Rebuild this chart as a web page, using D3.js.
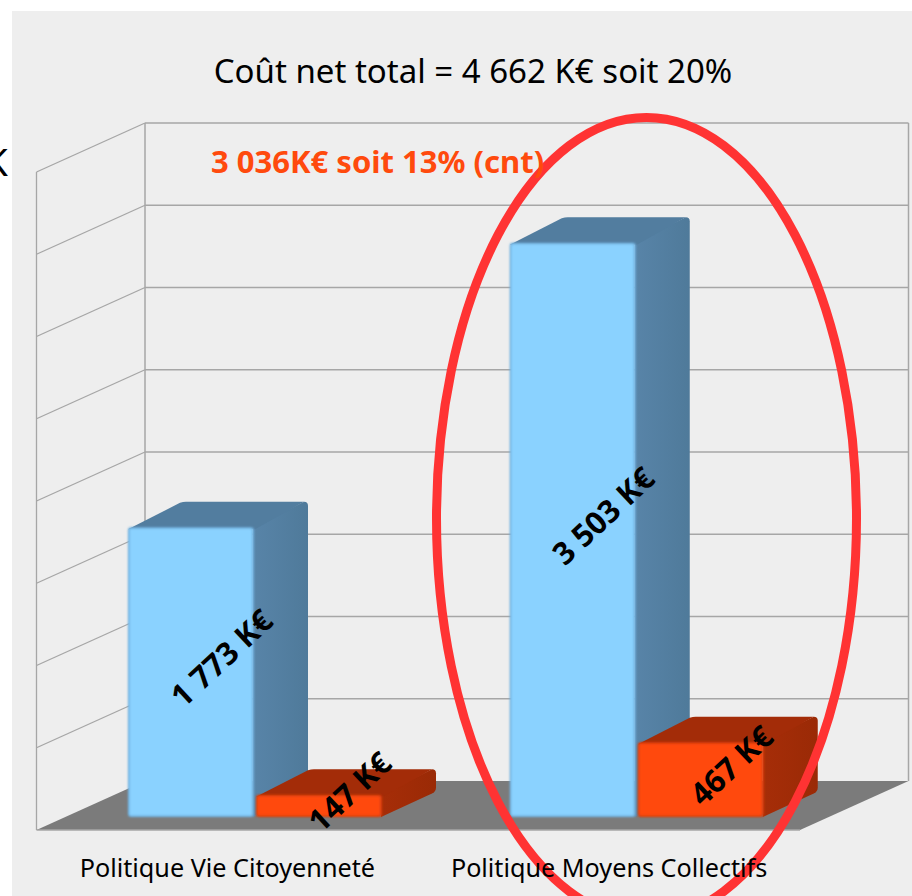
<!DOCTYPE html>
<html><head><meta charset="utf-8">
<style>html,body{margin:0;padding:0;background:#fff}svg{display:block}text{font-family:"Noto Sans",sans-serif}</style>
<script src="https://cdn.jsdelivr.net/npm/d3@7"></script></head>
<body><div id="c"></div>
<script>
const categories = ["Politique Vie Citoyenneté", "Politique Moyens Collectifs"];
const seriesNames = ["a", "b"];
const blueValues = [1773, 3503];
const orangeValues = [147, 467];
const valueLabels = {a: ["1 773 K€", "3 503 K€"], b: ["147 K€", "467 K€"]};
const titleText = "Coût net total = 4 662 K€ soit 20%";
const subtitleText = "3 036K€ soit 13% (cnt)";
const clippedText = "K";
const axisTicks = [0, 500, 1000, 1500, 2000, 2500, 3000, 3500, 4000];

const W = 912, H = 896;
const svg = d3.select("#c").append("svg").attr("width", W).attr("height", H);
const defs = svg.append("defs");
const grad = (id, a, b) => {
  const g = defs.append("linearGradient").attr("id", id).attr("x1", 0).attr("x2", 1).attr("y1", 0).attr("y2", 0);
  g.append("stop").attr("offset", 0).attr("stop-color", a);
  g.append("stop").attr("offset", 1).attr("stop-color", b);
};
grad("sideBlue", "#5884A8", "#4F7A9A");
grad("sideOrange", "#A62D08", "#9A2A06");
defs.append("filter").attr("id", "soft").attr("x", "-5%").attr("y", "-5%").attr("width", "110%").attr("height", "110%")
  .append("feGaussianBlur").attr("stdDeviation", 0.8);

svg.append("rect").attr("x", 12).attr("y", 11).attr("width", W - 12).attr("height", H - 11).attr("fill", "#EEEEEE");

// 3D frame
const depthX = 108.5, depthY = 49;
const frontLeft = 36.5, frontRight = 800, frontBase = 830, plotH = 658;
const y = d3.scaleLinear().domain([0, 4000]).range([frontBase, frontBase - plotH]);
const xCat = d3.scaleBand().domain(categories).range([frontLeft, frontRight]);
const xSer = d3.scaleBand().domain(seriesNames).range([91.5, 344.5]).paddingInner(3 / 128);

svg.append("polygon").attr("fill", "#7B7B7B").attr("points", [
  [frontLeft, frontBase], [frontLeft + depthX, frontBase - depthY], [frontRight + depthX, frontBase - depthY], [frontRight, frontBase]
].join(" "));

const gridColor = "#A6A6A6";
const gridG = svg.append("g").attr("fill", "none").attr("stroke", gridColor);
axisTicks.forEach(t => {
  const yf = y(t), yb = yf - depthY;
  if (t > 0) gridG.append("line").attr("x1", frontLeft + depthX).attr("x2", frontRight + depthX).attr("y1", yb).attr("y2", yb).attr("stroke-width", 1.5);
  if (t > 0) gridG.append("line").attr("x1", frontLeft).attr("x2", frontLeft + depthX).attr("y1", yf).attr("y2", yb).attr("stroke-width", 1.3);
});
gridG.append("line").attr("x1", frontLeft).attr("x2", frontLeft).attr("y1", y(4000)).attr("y2", y(0)).attr("stroke-width", 1.3);
gridG.append("line").attr("x1", frontLeft + depthX).attr("x2", frontLeft + depthX).attr("y1", y(4000) - depthY).attr("y2", y(0) - depthY).attr("stroke-width", 1.5);
gridG.append("line").attr("x1", frontRight + depthX).attr("x2", frontRight + depthX).attr("y1", y(4000) - depthY).attr("y2", y(0) - depthY).attr("stroke-width", 1.5);
gridG.append("line").attr("x1", frontLeft).attr("x2", frontRight).attr("y1", frontBase).attr("y2", frontBase).attr("stroke-width", 1.5);

// Bars
const barDX = 55, barDY = 25.5, barBase = 817, zeroY = y(0) - 11;
const yBar = v => zeroY - (y(0) - y(v));
const style = {
  a: {front: "#8AD2FF", edge: "#6FAEDB", side: "url(#sideBlue)", top: "#527D9F"},
  b: {front: "#FF4A0D", edge: "#D93E0A", side: "url(#sideOrange)", top: "#A32C08"}
};
const rows = [];
categories.forEach((c, i) => {
  rows.push({c, s: "a", v: blueValues[i], label: valueLabels.a[i]});
  rows.push({c, s: "b", v: orangeValues[i], label: valueLabels.b[i]});
});
const barG = svg.append("g");
const line = d3.line().curve(d3.curveLinearClosed);
rows.forEach(d => {
  const st = style[d.s];
  const x0 = xCat(d.c) + xSer(d.s), w = xSer.bandwidth(), x1 = x0 + w;
  const t = yBar(d.v);
  d.cx = (x0 + x1 + barDX) / 2 + 3;
  d.cy = (t - barDY + barBase) / 2 - 2;
  const g = barG.append("g");
  const r = 4;
  g.append("path").attr("fill", st.side).attr("d",
    `M${x1},${t}L${x1 + barDX - r},${t - barDY}Q${x1 + barDX},${t - barDY} ${x1 + barDX},${t - barDY + r}` +
    `L${x1 + barDX},${barBase - barDY - r}Q${x1 + barDX},${barBase - barDY} ${x1 + barDX - r},${barBase - barDY + 2}L${x1},${barBase}Z`);
  g.append("path").attr("fill", st.top).attr("d",
    `M${x0},${t + 2}L${x0 + barDX - 3},${t - barDY + 1}Q${x0 + barDX},${t - barDY} ${x0 + barDX + 3},${t - barDY}L${x1 + barDX - r},${t - barDY}L${x1 + 2},${t + 2}Z`);
  g.append("rect").attr("x", x0).attr("y", t).attr("width", w + 1).attr("height", barBase - t).attr("rx", 3)
    .attr("fill", st.edge).attr("filter", "url(#soft)");
  g.append("rect").attr("x", x0 + 1.5).attr("y", t + 1.5).attr("width", w - 2.5).attr("height", barBase - t - 3).attr("rx", 1.5)
    .attr("fill", st.front).attr("filter", "url(#soft)");
});

// Red ellipse
svg.append("ellipse").attr("cx", 646.5).attr("cy", 518.5).attr("rx", 210).attr("ry", 401)
  .attr("fill", "none").attr("stroke", "#FF3333").attr("stroke-width", 9);

// Text
svg.append("text").attr("x", 473).attr("y", 83).attr("text-anchor", "middle")
  .attr("font-size", 33).attr("fill", "#000").text(titleText);
svg.append("text").attr("x", 211).attr("y", 173).attr("font-size", 31).attr("font-weight", 700)
  .attr("fill", "#FF4A0D").text(subtitleText);
svg.append("text").attr("x", 8).attr("y", 176).attr("text-anchor", "end").attr("font-size", 39).attr("fill", "#000").text(clippedText);

const axis = d3.axisBottom(xCat).tickSize(0).tickPadding(0);
const axG = svg.append("g").attr("transform", "translate(0,855)").call(axis);
axG.select(".domain").remove();
axG.selectAll("text").attr("font-size", 25.2).attr("fill", "#000").attr("dy", 0).attr("y", 0).attr("dominant-baseline", "hanging")
  .style("font-family", '"Noto Sans",sans-serif');

svg.append("g").selectAll("text").data(rows).join("text")
  .attr("transform", d => `translate(${d.cx},${d.cy}) rotate(-43)`)
  .attr("text-anchor", "middle").attr("dominant-baseline", "central")
  .attr("font-size", 31).attr("font-weight", 700).attr("fill", "#000").text(d => d.label);
</script></body></html>
